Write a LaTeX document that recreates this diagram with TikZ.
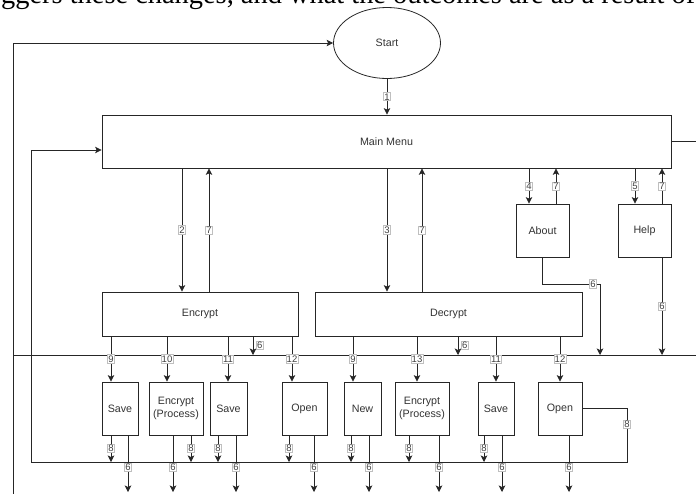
\documentclass[tikz,border=0pt]{standalone}
\usepackage{fontspec}
\setmainfont{Liberation Sans}
\newfontfamily\introserif{Liberation Serif}
\usetikzlibrary{shapes.geometric,arrows.meta}

\begin{document}
\begin{tikzpicture}[x=1pt,y=-1pt]
		\tikzset{box/.style = {shape=rectangle,draw=black!85,line width=0.8pt,text=black!80,font=\fontsize{10.7}{13}\selectfont,align=center,inner sep=0pt}}
		\tikzset{lbl/.style = {draw=black!25,fill=white,text=black!75,font=\fontsize{9.5}{10}\selectfont,inner sep=0.8pt}}
		\tikzset{edge/.style = {-{Stealth[length=6.5pt,width=6.5pt,inset=1.5pt]},draw=black!85,line width=0.8pt}}
		\tikzset{wire/.style = {draw=black!85,line width=0.8pt}}
		\clip (0,0) rectangle (696,493);
		\useasboundingbox (0,0) rectangle (696,493);
		\node[anchor=south west,inner sep=0pt,font=\introserif\fontsize{28.4}{30}\selectfont] (intro) at (1,10) {ggers these changes, and what the outcomes are as a result of};
		\node[box,shape=ellipse,minimum width=107,minimum height=71] (start) at (387,43) {Start};
		\node[box,minimum width=569,minimum height=53] (menu) at (386.5,141.5) {Main Menu};
		\node[box,minimum width=196,minimum height=44] (encrypt) at (200,314) {Encrypt};
		\node[box,minimum width=267,minimum height=44] (decrypt) at (448.5,314) {Decrypt};
		\node[box,minimum width=53,minimum height=53] (about) at (542.5,230.5) {About};
		\node[box,minimum width=53,minimum height=53] (help) at (644.5,230.5) {Help};
		\node[box,minimum width=36,minimum height=53] (esave) at (120,408.5) {Save};
		\node[box,minimum width=54,minimum height=53] (eproc) at (176,408.5) {Encrypt\\(Process)};
		\node[box,minimum width=37,minimum height=53] (esave2) at (228.5,408.5) {Save};
		\node[box,minimum width=45,minimum height=53] (eopen) at (304.5,408.5) {Open};
		\node[box,minimum width=37,minimum height=53] (dnew) at (362.5,408.5) {New};
		\node[box,minimum width=54,minimum height=53] (dproc) at (422,408.5) {Encrypt\\(Process)};
		\node[box,minimum width=36,minimum height=53] (dsave) at (496,408.5) {Save};
		\node[box,minimum width=44,minimum height=53] (dopen) at (560,408.5) {Open};
		\coordinate (outL) at (13,500);
		\coordinate (busL) at (13,355);
		\coordinate (busR) at (700,355);
		\coordinate (loopL) at (31,462);
		\coordinate (loopR) at (627,462);
		\coordinate (abend) at (600,284);
		\coordinate (low) at (0,492);
		\path[edge] (outL) |- (start.west);
		\path[wire] (busL) -- (busR);
		\path[wire] (menu.east) -- (menu.east -| busR);
		\path[edge] (start.south) -- node[lbl] {1} (start.south |- menu.north);
		\path[edge] (menu.south -| 182,0) -- node[lbl] {2} (encrypt.north -| 182,0);
		\path[edge] (encrypt.north -| 209,0) -- node[lbl] {7} (menu.south -| 209,0);
		\path[edge] (menu.south -| 387,0) -- node[lbl] {3} (decrypt.north -| 387,0);
		\path[edge] (decrypt.north -| 422,0) -- node[lbl] {7} (menu.south -| 422,0);
		\path[edge] (menu.south -| 529,0) -- node[lbl] {4} (about.north -| 529,0);
		\path[edge] (about.north -| 556,0) -- node[lbl] {7} (menu.south -| 556,0);
		\path[edge] (menu.south -| 635,0) -- node[lbl] {5} (help.north -| 635,0);
		\path[edge] (help.north -| 662,0) -- node[lbl] {7} (menu.south -| 662,0);
		\path[edge] (about.south) |- node[lbl,pos=0.94] {6} (abend) -- (abend |- busL);
		\path[edge] (help.south -| 662,0) -- node[lbl] {6} (busL -| 662,0);
		\path[edge] (encrypt.south -| 253,0) -- node[lbl,right=3pt] {6} (busL -| 253,0);
		\path[edge] (decrypt.south -| 458,0) -- node[lbl,right=3pt] {6} (busL -| 458,0);
		\path[edge] (encrypt.south -| 111,0) -- node[lbl] {9} (esave.north -| 111,0);
		\path[edge] (encrypt.south -| 167,0) -- node[lbl] {10} (eproc.north -| 167,0);
		\path[edge] (encrypt.south -| 228,0) -- node[lbl] {11} (esave2.north -| 228,0);
		\path[edge] (encrypt.south -| 292,0) -- node[lbl] {12} (eopen.north -| 292,0);
		\path[edge] (decrypt.south -| 353,0) -- node[lbl] {9} (dnew.north -| 353,0);
		\path[edge] (decrypt.south -| 417,0) -- node[lbl] {13} (dproc.north -| 417,0);
		\path[edge] (decrypt.south -| 496,0) -- node[lbl] {11} (dsave.north -| 496,0);
		\path[edge] (decrypt.south -| 560,0) -- node[lbl] {12} (dopen.north -| 560,0);
		\foreach \b/\e/\s in {esave/111/128, eproc/191/173, esave2/218/236, eopen/289/314, dnew/351/369, dproc/409/439, dsave/484/502} {
			\path[edge] (\b.south -| \e,0) -- node[lbl] {8} (loopL -| \e,0);
			\path[edge] (\b.south -| \s,0) -- node[lbl,pos=0.56] {6} (low -| \s,0);
		}
		\path[edge] (dopen.south -| 569,0) -- node[lbl,pos=0.56] {6} (low -| 569,0);
		\path[edge] (dopen.east) -| node[lbl,pos=0.65] {8} (loopR) -- (loopL) |- (menu.west |- 0,150);
	\end{tikzpicture}
\end{document}
